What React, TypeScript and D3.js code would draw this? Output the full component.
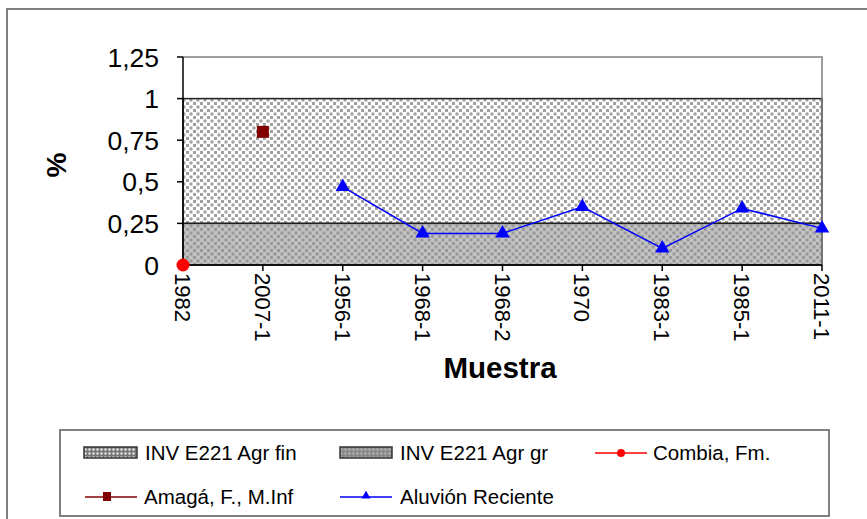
import { useMemo } from "react";
import * as d3 from "d3";

const muestras = ["1982", "2007-1", "1956-1", "1968-1", "1968-2", "1970", "1983-1", "1985-1", "2011-1"];
const combia = [{ m: "1982", v: 0 }];
const amaga = [{ m: "2007-1", v: 0.8 }];
const aluvion = [
  { m: "1956-1", v: 0.47 },
  { m: "1968-1", v: 0.19 },
  { m: "1968-2", v: 0.19 },
  { m: "1970", v: 0.35 },
  { m: "1983-1", v: 0.1 },
  { m: "1985-1", v: 0.34 },
  { m: "2011-1", v: 0.22 },
];
const bandaFin = [0.25, 1];
const bandaGr = [0, 0.25];
const yTicks = [0, 0.25, 0.5, 0.75, 1, 1.25];

const W = 867;
const H = 519;
const font = "'Liberation Sans', Arial, sans-serif";

export default function App() {
  const x = useMemo(() => d3.scalePoint<string>().domain(muestras).range([183, 822]), []);
  const y = useMemo(() => d3.scaleLinear().domain([0, 1.25]).range([265, 57]), []);
  const fmt = (v: number) => String(v).replace(".", ",");
  const line = d3
    .line<{ m: string; v: number }>()
    .x((d) => x(d.m)!)
    .y((d) => y(d.v));
  const tri = d3.symbol(d3.symbolTriangle, 90)()!;
  const x0 = 183;
  const x1 = 822;

  return (
    <svg width={W} height={H} style={{ position: "absolute", left: 0, top: 0, background: "#fff" }} fontFamily={font}>
      <defs>
        <pattern id="pFin" width="7" height="7" patternUnits="userSpaceOnUse">
          <rect width="7" height="7" fill="#fff" />
          <rect x="0.5" y="0.5" width="3" height="3" fill="#a0a0a0" />
          <rect x="4" y="4" width="3" height="3" fill="#a0a0a0" />
        </pattern>
        <pattern id="pGr" width="7" height="7" patternUnits="userSpaceOnUse">
          <rect width="7" height="7" fill="#c2c2c2" />
          <rect x="0.5" y="0.5" width="3" height="3" fill="#999" />
          <rect x="4" y="4" width="3" height="3" fill="#999" />
        </pattern>
        <pattern id="sFin" width="4" height="4" patternUnits="userSpaceOnUse">
          <rect width="4" height="4" fill="#777" />
          <rect x="0.5" y="0.5" width="2" height="2" fill="#fff" />
        </pattern>
        <pattern id="sGr" width="4" height="4" patternUnits="userSpaceOnUse">
          <rect width="4" height="4" fill="#888" />
          <rect x="0.5" y="0.5" width="2" height="2" fill="#bbb" />
        </pattern>
      </defs>
      <rect x={7} y={9} width={900} height={600} fill="#fff" stroke="#808080" strokeWidth={2} />

      {/* bands */}
      <rect x={x0} y={y(bandaFin[1])} width={x1 - x0} height={y(bandaFin[0]) - y(bandaFin[1])} fill="url(#pFin)" stroke="#222" strokeWidth={1.5} />
      <rect x={x0} y={y(bandaGr[1])} width={x1 - x0} height={y(bandaGr[0]) - y(bandaGr[1])} fill="url(#pGr)" stroke="#222" strokeWidth={1.5} />

      {/* plot frame */}
      <path d={`M${x0},${y(1.25)}H${x1}V${y(0)}`} fill="none" stroke="#808080" strokeWidth={1.5} />
      <line x1={x0} x2={x0} y1={y(1.25)} y2={y(0)} stroke="#000" strokeWidth={1.5} />
      <line x1={x0} x2={x1} y1={y(0)} y2={y(0)} stroke="#000" strokeWidth={1.5} />

      {/* y axis */}
      {yTicks.map((t) => (
        <g key={t}>
          <line x1={x0 - 6} x2={x0} y1={y(t)} y2={y(t)} stroke="#000" strokeWidth={1.5} />
          <text x={159} y={y(t)} dy="0.36em" textAnchor="end" fontSize={26.5} fill="#000">
            {fmt(t)}
          </text>
        </g>
      ))}
      <text transform={`translate(66,${y(0.6)}) rotate(-90)`} textAnchor="middle" fontSize={28} fontWeight="bold">
        %
      </text>

      {/* x axis */}
      {muestras.map((m) => (
        <g key={m}>
          <line x1={x(m)} x2={x(m)} y1={y(0)} y2={y(0) + 6} stroke="#000" strokeWidth={1.5} />
          <text transform={`translate(${x(m)! - 8},${y(0) + 8}) rotate(90)`} fontSize={22} fill="#000">
            {m}
          </text>
        </g>
      ))}
      <text x={500} y={378} textAnchor="middle" fontSize={29.5} fontWeight="bold">
        Muestra
      </text>

      {/* series */}
      <path d={line(aluvion)!} fill="none" stroke="#0000ff" strokeWidth={1.5} />
      {aluvion.map((d) => (
        <path key={d.m} d={tri} transform={`translate(${x(d.m)},${y(d.v)})`} fill="#0000ff" />
      ))}
      {amaga.map((d) => (
        <rect key={d.m} x={x(d.m)! - 6} y={y(d.v) - 6} width={12} height={12} fill="#800000" />
      ))}
      {combia.map((d) => (
        <circle key={d.m} cx={x(d.m)} cy={y(d.v)} r={6.5} fill="#ff0000" />
      ))}

      {/* legend */}
      <rect x={60} y={430} width={769} height={86} fill="#fff" stroke="#808080" strokeWidth={2} />
      <g fontSize={20.5} fill="#000">
        <rect x={84} y={447} width={53} height={11} fill="url(#sFin)" stroke="#333" strokeWidth={1.5} />
        <text x={145} y={460}>INV E221 Agr fin</text>
        <rect x={340} y={447} width={52} height={11} fill="url(#sGr)" stroke="#333" strokeWidth={1.5} />
        <text x={400} y={460}>INV E221 Agr gr</text>
        <line x1={595} x2={647} y1={453} y2={453} stroke="#ff0000" strokeWidth={1.5} />
        <circle cx={621} cy={453} r={4} fill="#ff0000" />
        <text x={653} y={460}>Combia, Fm.</text>
        <line x1={85} x2={137} y1={497} y2={497} stroke="#800000" strokeWidth={1.5} />
        <rect x={103} y={492} width={8} height={9} fill="#800000" />
        <text x={144} y={504}>Amagá, F., M.Inf</text>
        <line x1={340} x2={392} y1={497} y2={497} stroke="#0000ff" strokeWidth={1.5} />
        <path d={d3.symbol(d3.symbolTriangle, 35)()!} transform="translate(366,496)" fill="#0000ff" />
        <text x={400} y={504}>Aluvión Reciente</text>
      </g>
    </svg>
  );
}
